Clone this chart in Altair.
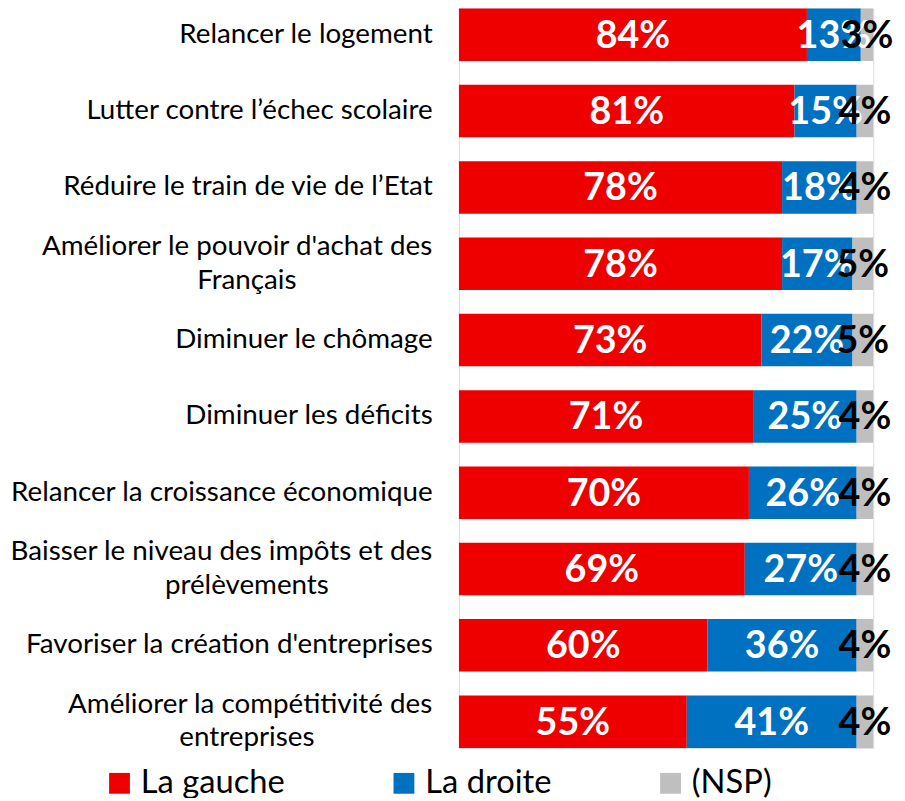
import altair as alt
import pandas as pd

categories = [
    "Relancer le logement",
    "Lutter contre l’échec scolaire",
    "Réduire le train de vie de l’Etat",
    "Améliorer le pouvoir d'achat des|Français",
    "Diminuer le chômage",
    "Diminuer les déficits",
    "Relancer la croissance économique",
    "Baisser le niveau des impôts et des|prélèvements",
    "Favoriser la création d'entreprises",
    "Améliorer la compétitivité des|entreprises",
]
gauche = [84, 81, 78, 78, 73, 71, 70, 69, 60, 55]
droite = [13, 15, 18, 17, 22, 25, 26, 27, 36, 41]
nsp = [3, 4, 4, 5, 5, 4, 4, 4, 4, 4]
series = ["La gauche", "La droite", "(NSP)"]
colors = ["#EE0000", "#0070C0", "#BFBFBF"]
text_colors = ["white", "white", "black"]

rows = []
for i, cat in enumerate(categories):
    start = 0
    for s, vals, tc in zip(series, [gauche, droite, nsp], text_colors):
        v = vals[i]
        rows.append({
            "cat": cat, "series": s, "value": v,
            "x0": start, "x1": start + v, "mid": start + v / 2,
            "label": f"{v}%", "tcolor": tc,
        })
        start += v
df = pd.DataFrame(rows)

two_line = pd.DataFrame([
    {"cat": c, "line1": c.split("|")[0], "line2": c.split("|")[1]}
    for c in categories if "|" in c
])

FONT = "Lato"

y_enc = alt.Y("cat:N", sort=categories, title=None,
              scale=alt.Scale(paddingInner=0.312, paddingOuter=0),
              axis=alt.Axis(domain=False, ticks=False, labelPadding=27,
                            labelFontSize=28, labelFont=FONT, labelColor="black",
                            labelLimit=600,
                            labelExpr="indexof(datum.label, '|') >= 0 ? '' : datum.label"))

bars = alt.Chart(df).mark_bar().encode(
    y=y_enc,
    x=alt.X("x0:Q", scale=alt.Scale(domain=[0, 100]), axis=None),
    x2="x1:Q",
    color=alt.Color("series:N", sort=series,
                    scale=alt.Scale(domain=series, range=colors),
                    legend=alt.Legend(title=None, orient="none", direction="horizontal",
                                      legendX=-359, legendY=765,
                                      symbolType="square", symbolSize=441,
                                      symbolStrokeWidth=0, symbolOpacity=1,
                                      labelFontSize=33, labelFont=FONT,
                                      labelColor="black", labelOffset=5,
                                      columnPadding=103, labelLimit=400)),
)

texts = alt.Chart(df).mark_text(font=FONT, fontWeight="bold", fontSize=38,
                                baseline="middle", dy=2).encode(
    y=alt.Y("cat:N", sort=categories),
    x=alt.X("mid:Q"),
    text="label:N",
    color=alt.Color("tcolor:N", scale=None),
)

line1 = alt.Chart(two_line).mark_text(font=FONT, fontSize=28, align="right",
                                      baseline="middle", dy=-17, color="black").encode(
    y=alt.Y("cat:N", sort=categories),
    x=alt.value(-27),
    text="line1:N",
)

line2 = alt.Chart(two_line).mark_text(font=FONT, fontSize=28, align="center",
                                      baseline="middle", dy=17, color="black").encode(
    y=alt.Y("cat:N", sort=categories),
    x=alt.value(-214),
    text="line2:N",
)

chart = (bars + texts + line1 + line2).properties(
    width=418, height=746,
    autosize=alt.AutoSizeParams(type="none"),
    padding={"left": 455, "top": -3, "right": 24, "bottom": 47},
).configure_view(stroke=None).configure(background="white")

chart.save("out.html", embed_options={"renderer": "svg", "actions": False})
